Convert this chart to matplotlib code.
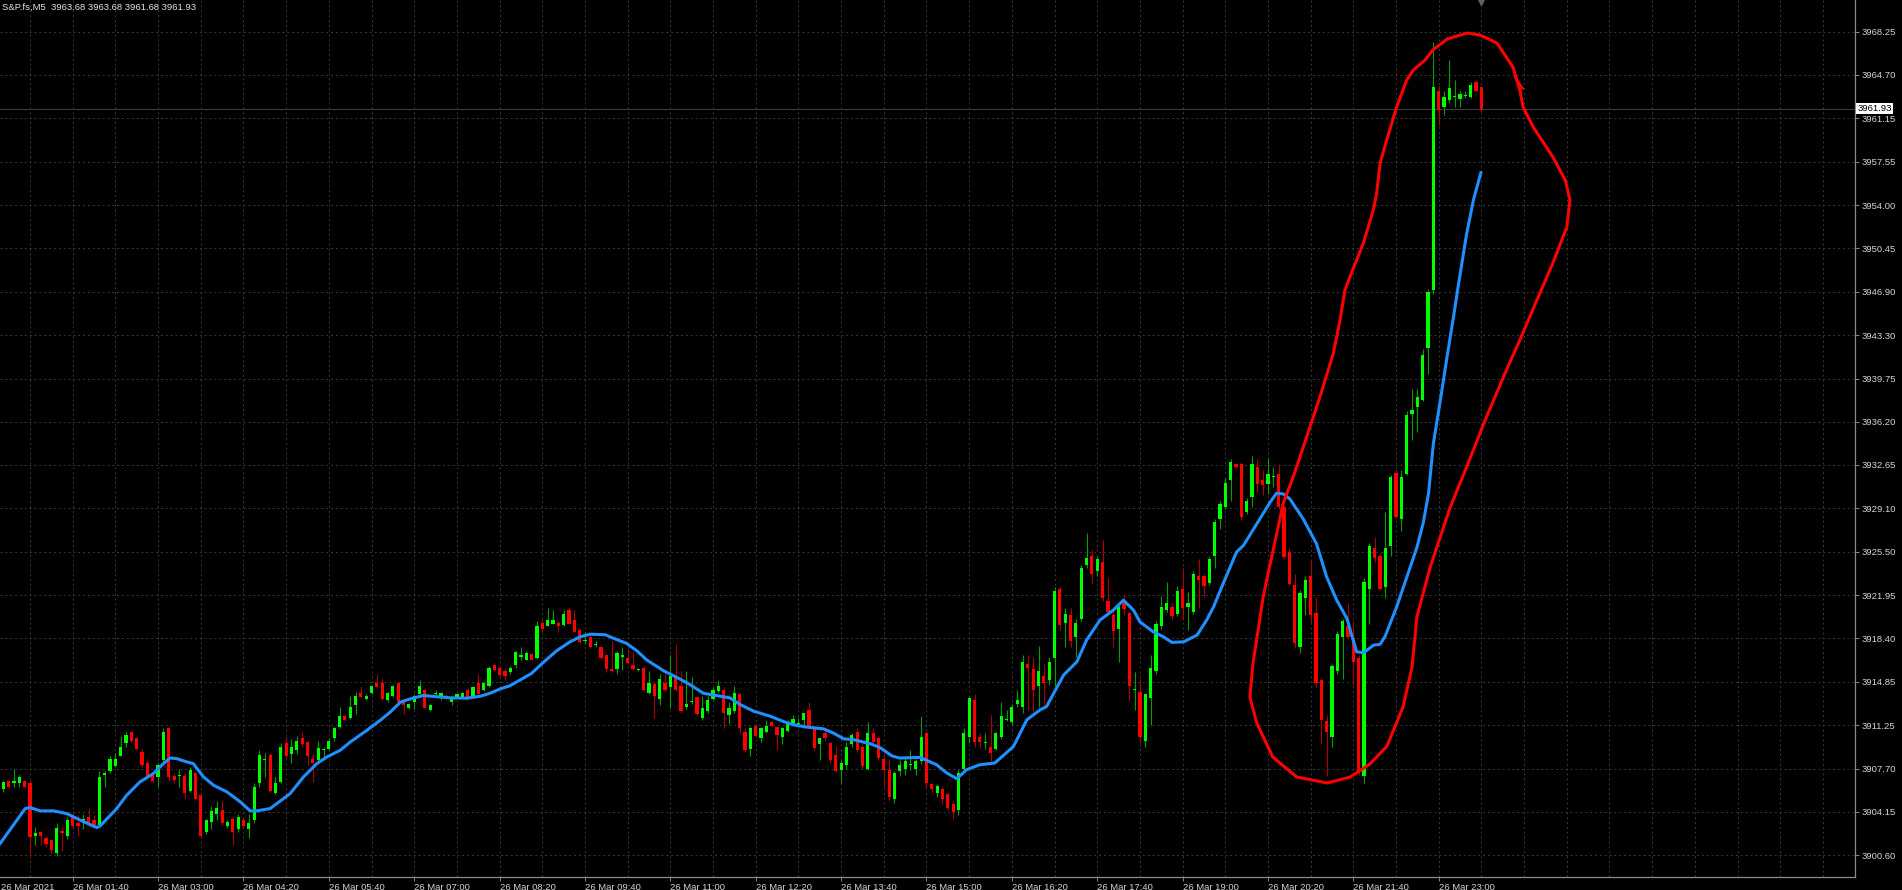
import numpy as np
import matplotlib.pyplot as plt
from matplotlib.transforms import blended_transform_factory

plt.rcParams['font.family'] = ['Liberation Sans', 'DejaVu Sans']

symbol = 'S&P.fs,M5'
first_bar = 7  # 00:35, bar number counted in 5 minute steps from 00:00

opens = [
    3906.0, 3906.7, 3906.5, 3906.5, 3906.7, 3906.5, 3902.2, 3902.5, 3902.0, 3901.8,
    3900.8, 3902.6, 3902.2, 3903.8, 3903.2, 3903.2, 3903.7, 3903.5, 3903.1, 3907.2,
    3907.5, 3907.9, 3908.7, 3909.8, 3910.7, 3910.2, 3909.1, 3908.2, 3907.2, 3907.0,
    3908.4, 3911.0, 3907.1, 3907.1, 3907.1, 3905.9, 3907.3, 3905.5, 3902.5, 3903.3,
    3904.0, 3904.3, 3903.0, 3903.6, 3902.7, 3903.5, 3902.7, 3903.5, 3906.5, 3908.4,
    3908.8, 3905.7, 3906.6, 3909.8, 3908.9, 3909.2, 3910.2, 3909.9, 3908.5, 3908.4,
    3909.2, 3909.3, 3910.2, 3911.1, 3912.0, 3911.9, 3912.9, 3913.9, 3913.4, 3913.9,
    3914.7, 3914.7, 3913.3, 3913.7, 3914.7, 3913.2, 3912.7, 3913.2, 3913.8, 3914.2,
    3912.5, 3913.8, 3913.5, 3913.7, 3913.2, 3913.6, 3913.6, 3914.2, 3913.7, 3914.7,
    3914.2, 3914.5, 3916.2, 3916.0, 3915.7, 3915.6, 3916.2, 3916.9, 3916.65, 3917.1,
    3916.8, 3919.7, 3919.4, 3919.6, 3919.7, 3919.5, 3920.7, 3919.9, 3919.1, 3918.2,
    3918.5, 3917.85, 3917.7, 3917.0, 3915.9, 3915.9, 3916.9, 3916.75, 3916.2, 3915.8,
    3916.0, 3913.9, 3914.65, 3913.4, 3914.7, 3914.4, 3915.3, 3914.5, 3912.8, 3913.15,
    3913.6, 3911.9, 3912.4, 3913.4, 3914.1, 3914.2, 3912.1, 3912.4, 3913.8, 3910.7,
    3909.3, 3911.2, 3910.2, 3910.7, 3911.5, 3911.1, 3910.3, 3910.8, 3911.4, 3911.4,
    3911.7, 3912.5, 3911.1, 3909.7, 3910.6, 3909.8, 3908.8, 3907.6, 3908.0, 3909.7,
    3910.7, 3909.5, 3907.7, 3910.6, 3910.2, 3908.5, 3907.6, 3905.2, 3907.5, 3907.7,
    3908.0, 3907.7, 3908.3, 3910.6, 3906.4, 3905.7, 3906.0, 3905.6, 3904.8, 3904.3,
    3907.7, 3910.3, 3913.3, 3910.3, 3909.8, 3909.5, 3909.3, 3910.3, 3911.7, 3911.5,
    3913.0, 3912.8, 3916.3, 3915.9, 3914.5, 3915.3, 3915.0, 3916.8, 3922.5, 3919.7,
    3920.3, 3918.5, 3920.0, 3924.4, 3925.2, 3923.9, 3924.7, 3921.5, 3920.3, 3919.2,
    3921.3, 3920.5, 3914.2, 3914.0, 3910.0, 3913.5, 3915.7, 3919.4, 3920.7, 3921.0,
    3920.4, 3922.5, 3921.0, 3920.6, 3923.5, 3923.5, 3922.96, 3925.2, 3928.2, 3929.2,
    3931.4, 3932.7, 3932.7, 3928.8, 3930.0, 3932.5, 3931.4, 3931.1, 3931.7, 3931.9,
    3929.2, 3925.5, 3922.8, 3917.7, 3921.7, 3923.5, 3920.5, 3915.0, 3911.6, 3910.3,
    3915.7, 3918.5, 3919.4, 3918.4, 3916.8, 3907.06, 3922.5, 3925.8, 3925.2, 3922.6,
    3925.98, 3932.0, 3928.2, 3931.9, 3936.8, 3937.4, 3938.0, 3942.3, 3947.0, 3963.4,
    3962.1, 3962.6, 3962.9, 3962.7, 3962.95, 3962.9, 3964.1, 3963.68,
]
highs = [
    3906.7, 3906.8, 3907.7, 3907.2, 3906.8, 3906.8, 3902.9, 3902.6, 3902.2, 3901.8,
    3903.2, 3902.8, 3903.7, 3904.0, 3903.9, 3904.0, 3904.5, 3903.9, 3907.5, 3907.5,
    3908.7, 3909.0, 3910.4, 3910.7, 3910.8, 3910.3, 3909.3, 3908.4, 3907.4, 3908.2,
    3911.0, 3911.1, 3907.3, 3907.7, 3907.3, 3907.8, 3907.4, 3905.6, 3903.6, 3904.6,
    3905.0, 3905.1, 3903.5, 3903.7, 3904.0, 3903.7, 3904.0, 3906.5, 3909.2, 3909.0,
    3909.0, 3907.0, 3909.8, 3910.4, 3910.1, 3910.4, 3910.7, 3910.0, 3908.9, 3910.0,
    3909.5, 3910.2, 3911.1, 3912.8, 3912.1, 3913.7, 3914.0, 3914.5, 3913.8, 3914.6,
    3915.5, 3915.1, 3914.0, 3914.6, 3914.8, 3913.4, 3913.1, 3913.8, 3915.0, 3914.3,
    3913.0, 3914.2, 3914.0, 3913.8, 3913.7, 3913.9, 3914.0, 3914.3, 3914.5, 3915.5,
    3914.8, 3916.1, 3916.3, 3916.1, 3916.0, 3916.1, 3917.4, 3917.7, 3917.4, 3917.2,
    3919.8, 3919.9, 3920.9, 3920.7, 3919.85, 3920.7, 3920.9, 3920.7, 3919.2, 3918.9,
    3918.6, 3918.2, 3917.8, 3917.1, 3918.2, 3917.4, 3917.7, 3917.5, 3917.3, 3916.0,
    3916.1, 3915.7, 3914.8, 3915.5, 3915.6, 3917.0, 3917.9, 3915.7, 3915.7, 3915.2,
    3913.7, 3913.7, 3913.7, 3914.4, 3915.0, 3914.4, 3913.2, 3914.5, 3913.9, 3911.0,
    3911.1, 3911.4, 3911.1, 3911.7, 3911.65, 3911.2, 3911.1, 3911.7, 3912.1, 3911.9,
    3912.3, 3913.2, 3911.2, 3910.3, 3911.1, 3909.9, 3909.6, 3908.4, 3909.9, 3910.6,
    3911.0, 3909.7, 3911.5, 3911.0, 3910.4, 3908.9, 3908.5, 3907.5, 3908.4, 3908.7,
    3909.2, 3908.5, 3912.0, 3910.7, 3906.5, 3906.4, 3906.2, 3905.7, 3905.0, 3907.6,
    3911.0, 3913.6, 3913.8, 3910.6, 3910.6, 3912.1, 3910.75, 3913.2, 3912.5, 3913.0,
    3914.2, 3917.0, 3917.0, 3916.9, 3917.8, 3916.3, 3916.9, 3922.6, 3922.6, 3920.9,
    3920.9, 3920.0, 3924.4, 3927.1, 3925.7, 3925.2, 3926.5, 3923.4, 3920.6, 3921.2,
    3922.0, 3920.6, 3915.6, 3915.1, 3913.9, 3917.0, 3919.8, 3921.9, 3923.0, 3921.3,
    3922.7, 3924.2, 3922.2, 3923.9, 3924.9, 3923.7, 3925.2, 3928.2, 3929.7, 3931.6,
    3933.1, 3932.8, 3932.9, 3929.9, 3933.4, 3933.1, 3932.2, 3933.2, 3932.5, 3932.7,
    3929.3, 3925.8, 3923.7, 3922.4, 3923.5, 3924.8, 3921.8, 3915.1, 3912.1, 3916.3,
    3919.0, 3920.0, 3921.3, 3919.8, 3917.0, 3923.4, 3926.2, 3926.7, 3925.4, 3928.8,
    3931.8, 3932.2, 3932.2, 3937.1, 3938.9, 3938.9, 3942.2, 3947.1, 3967.4, 3963.8,
    3963.4, 3965.9, 3964.3, 3963.4, 3963.4, 3964.1, 3964.3, 3963.68,
]
lows = [
    3905.8, 3906.1, 3906.2, 3906.2, 3906.1, 3900.5, 3901.4, 3901.4, 3901.3, 3900.7,
    3900.5, 3900.9, 3901.9, 3902.7, 3902.2, 3902.7, 3902.9, 3903.0, 3902.9, 3906.2,
    3907.3, 3907.8, 3908.7, 3909.5, 3909.9, 3909.2, 3907.8, 3907.0, 3906.5, 3906.2,
    3908.2, 3906.7, 3906.5, 3906.2, 3905.2, 3905.8, 3905.1, 3902.0, 3902.3, 3902.7,
    3903.5, 3903.1, 3902.8, 3901.4, 3902.5, 3902.8, 3902.0, 3903.2, 3906.2, 3907.0,
    3905.8, 3905.6, 3906.5, 3908.6, 3908.2, 3908.9, 3909.5, 3908.0, 3906.6, 3908.1,
    3908.4, 3909.2, 3910.0, 3911.0, 3911.6, 3911.8, 3912.2, 3913.6, 3913.3, 3913.8,
    3914.3, 3913.3, 3913.2, 3913.6, 3913.1, 3912.2, 3912.6, 3912.6, 3913.7, 3912.6,
    3912.4, 3913.6, 3913.3, 3913.4, 3912.9, 3913.5, 3913.5, 3913.5, 3913.6, 3913.7,
    3914.1, 3914.4, 3915.7, 3915.3, 3915.0, 3915.5, 3916.0, 3916.6, 3916.6, 3916.6,
    3916.7, 3918.9, 3919.4, 3919.6, 3918.9, 3919.4, 3919.6, 3918.9, 3917.9, 3917.9,
    3917.6, 3917.7, 3916.7, 3915.6, 3915.6, 3915.5, 3915.8, 3916.3, 3915.8, 3915.7,
    3914.1, 3913.8, 3911.9, 3912.9, 3914.1, 3912.7, 3914.1, 3912.3, 3912.6, 3913.0,
    3912.1, 3911.7, 3912.3, 3913.3, 3914.0, 3911.0, 3911.4, 3912.3, 3910.6, 3909.1,
    3908.7, 3910.3, 3909.9, 3910.6, 3911.1, 3909.2, 3909.7, 3910.7, 3911.2, 3911.1,
    3911.0, 3911.0, 3909.2, 3908.4, 3910.0, 3908.2, 3907.4, 3906.5, 3907.7, 3909.5,
    3909.1, 3907.7, 3907.6, 3909.6, 3908.4, 3906.2, 3905.1, 3904.9, 3907.1, 3907.2,
    3907.6, 3907.2, 3908.1, 3906.1, 3905.8, 3905.4, 3904.8, 3904.3, 3903.6, 3903.9,
    3907.6, 3909.8, 3909.5, 3909.5, 3909.3, 3908.3, 3909.2, 3910.1, 3911.6, 3911.3,
    3912.8, 3912.3, 3912.5, 3912.3, 3912.8, 3912.9, 3914.6, 3914.5, 3919.1, 3917.7,
    3917.7, 3916.9, 3919.8, 3924.2, 3922.96, 3923.5, 3921.5, 3920.4, 3917.7, 3916.5,
    3920.3, 3913.3, 3912.5, 3909.8, 3909.5, 3911.3, 3915.5, 3919.2, 3920.6, 3919.9,
    3920.2, 3919.9, 3919.1, 3920.4, 3920.9, 3921.8, 3922.8, 3924.2, 3927.4, 3929.0,
    3929.7, 3932.4, 3928.1, 3928.6, 3929.2, 3930.4, 3930.2, 3930.3, 3930.8, 3929.0,
    3924.9, 3922.8, 3917.6, 3917.2, 3920.3, 3919.6, 3914.4, 3909.8, 3907.1, 3909.5,
    3915.5, 3915.1, 3918.4, 3914.6, 3907.2, 3906.5, 3919.6, 3924.7, 3922.4, 3921.7,
    3925.2, 3928.3, 3927.2, 3931.8, 3934.7, 3935.4, 3937.9, 3940.1, 3946.7, 3960.6,
    3961.4, 3962.4, 3962.1, 3962.1, 3962.8, 3962.8, 3963.3, 3961.68,
]
closes = [
    3906.6, 3906.2, 3906.7, 3907.0, 3906.2, 3902.1, 3902.4, 3902.2, 3901.5, 3901.0,
    3902.8, 3902.4, 3903.5, 3903.0, 3903.0, 3903.6, 3903.2, 3903.1, 3907.0, 3907.3,
    3908.5, 3908.5, 3909.5, 3910.5, 3910.0, 3909.3, 3908.0, 3907.1, 3906.7, 3908.0,
    3910.7, 3907.0, 3906.8, 3907.2, 3905.7, 3907.6, 3905.2, 3902.2, 3903.5, 3904.2,
    3904.5, 3903.2, 3903.3, 3902.5, 3903.7, 3903.0, 3903.2, 3906.2, 3908.8, 3908.5,
    3905.9, 3906.5, 3909.5, 3908.7, 3909.5, 3910.0, 3909.7, 3908.7, 3908.2, 3909.4,
    3909.3, 3910.0, 3911.0, 3912.0, 3911.7, 3912.8, 3913.7, 3913.6, 3913.7, 3914.5,
    3914.4, 3913.4, 3913.9, 3914.5, 3913.2, 3912.9, 3913.0, 3913.7, 3914.5, 3912.7,
    3912.9, 3913.9, 3913.9, 3913.5, 3913.5, 3913.8, 3913.9, 3913.6, 3914.4, 3913.8,
    3914.7, 3916.0, 3915.8, 3915.4, 3915.3, 3916.0, 3917.25, 3917.0, 3917.2, 3916.65,
    3919.4, 3919.2, 3919.9, 3919.9, 3919.4, 3920.4, 3919.6, 3918.9, 3918.1, 3918.25,
    3917.7, 3917.9, 3916.8, 3915.9, 3915.7, 3917.2, 3917.0, 3916.4, 3915.9, 3915.9,
    3914.2, 3914.7, 3913.7, 3915.1, 3914.2, 3915.3, 3914.2, 3912.4, 3913.0, 3913.2,
    3912.2, 3912.7, 3913.3, 3914.2, 3914.5, 3912.3, 3912.7, 3913.9, 3911.0, 3909.2,
    3911.0, 3910.4, 3911.0, 3911.2, 3911.2, 3910.5, 3911.0, 3911.4, 3911.8, 3911.45,
    3912.25, 3911.1, 3909.4, 3910.2, 3910.2, 3908.4, 3907.5, 3908.2, 3909.5, 3910.5,
    3909.2, 3907.9, 3910.6, 3909.9, 3908.6, 3907.6, 3905.4, 3907.3, 3908.0, 3908.3,
    3908.1, 3908.3, 3910.3, 3906.5, 3906.0, 3906.3, 3905.2, 3904.5, 3904.1, 3907.3,
    3910.6, 3913.5, 3909.9, 3909.9, 3909.85, 3909.0, 3910.6, 3912.0, 3911.8, 3912.8,
    3913.3, 3916.5, 3916.0, 3914.2, 3915.7, 3914.7, 3916.5, 3922.3, 3919.5, 3920.4,
    3918.2, 3919.7, 3924.2, 3925.0, 3923.7, 3924.9, 3921.7, 3920.6, 3919.0, 3921.0,
    3920.8, 3914.5, 3914.25, 3910.3, 3913.8, 3916.0, 3919.6, 3921.0, 3921.3, 3920.2,
    3922.3, 3920.9, 3921.3, 3923.7, 3923.2, 3922.7, 3924.9, 3927.96, 3929.45, 3931.2,
    3932.9, 3932.5, 3928.4, 3929.7, 3932.7, 3931.1, 3931.0, 3931.9, 3931.75, 3929.2,
    3925.1, 3922.9, 3918.0, 3922.1, 3923.2, 3920.3, 3914.7, 3911.7, 3910.7, 3916.1,
    3918.8, 3919.8, 3918.5, 3916.5, 3907.3, 3923.0, 3926.0, 3925.0, 3922.5, 3925.8,
    3931.7, 3928.4, 3931.7, 3936.75, 3937.2, 3938.2, 3941.7, 3946.9, 3963.7, 3961.85,
    3962.9, 3963.6, 3962.95, 3963.1, 3963.0, 3963.9, 3963.4, 3961.93,
]

# moving average (blue) at these bar numbers
ma_bars = [6.4, 11.1, 12.0, 13.9, 16.4, 18.9, 21.4, 24.5, 25.1, 28.25, 30.1, 32.6, 35.1,
           37.0, 38.25, 39.5, 41.4, 42.6, 44.5, 46.4, 48.9, 51.4, 53.25, 54.5, 57.0, 58.25,
           60.75, 63.25, 65.75, 67.6, 70.1, 72.0, 75.1, 77.6, 79.5, 81.4, 83.25, 85.75,
           87.6, 90.75, 93.9, 96.4, 98.25, 100.1, 102.0, 106.0, 108.2, 110.7, 113.2, 115.1,
           117.0, 119.8, 121.3, 123.8, 125.7, 127.6, 130.7, 133.2, 135.7, 138.2, 140.7,
           143.2, 145.1, 147.6, 150.7, 153.2, 155.1, 157.6, 160.7, 162.6, 164.5, 166.4,
           169.5, 171.3, 173.5, 175.0, 178.8, 181.9, 183.8, 185.7, 187.5, 190.0, 192.8,
           196.3, 198.8, 201.3, 202.5, 205.7, 208.2, 210.0, 212.5, 215.0, 216.9, 218.8,
           220.0, 222.5, 224.4, 226.0, 228.2, 230.7, 232.5, 233.8, 235.6, 238.1, 239.4,
           241.9, 244.4, 245.6, 246.9, 248.1, 250.6, 253.1, 255.0, 256.9, 258.8, 260.6,
           261.9, 263.8, 265.0, 265.9, 268.1, 270.0, 271.9, 273.1, 274.1, 275.0, 276.2,
           277.5, 278.7, 279.7, 281.2, 282.5, 283.9]
ma_values = [3901.55, 3904.42, 3904.5, 3904.23, 3904.23, 3904.0, 3903.47, 3902.86, 3902.97,
             3904.42, 3905.51, 3906.61, 3907.29, 3908.11, 3908.57, 3908.52, 3908.25, 3908.11,
             3907.02, 3906.33, 3905.79, 3904.97, 3904.23, 3904.23, 3904.42, 3904.83, 3905.65,
             3907.02, 3908.11, 3908.65, 3909.2, 3909.88, 3910.84, 3911.66, 3912.34, 3913.16,
             3913.43, 3913.71, 3913.63, 3913.52, 3913.49, 3913.65, 3913.9, 3914.25, 3914.52,
             3915.53, 3916.43, 3917.39, 3918.12, 3918.53, 3918.75, 3918.7, 3918.42, 3917.99,
             3917.39, 3916.62, 3915.75, 3915.2, 3914.6, 3913.89, 3913.7, 3913.51, 3912.96,
             3912.42, 3912.01, 3911.57, 3911.3, 3911.11, 3910.97, 3910.61, 3910.15, 3910.07,
             3909.74, 3909.43, 3908.75, 3908.57, 3908.62, 3908.02, 3907.34, 3906.87, 3907.61,
             3908.02, 3908.16, 3909.52, 3911.71, 3912.53, 3912.8, 3915.39, 3916.49, 3918.26,
             3919.9, 3920.72, 3921.54, 3920.72, 3919.76, 3918.94, 3918.53, 3918.07, 3918.12,
             3918.67, 3919.9, 3920.99, 3922.9, 3925.49, 3926.04, 3927.81, 3929.59, 3930.33,
             3930.27, 3929.86, 3928.22, 3926.17, 3923.44, 3921.53, 3920.03, 3917.3, 3917.22,
             3917.85, 3917.91, 3918.52, 3920.97, 3923.41, 3925.86, 3927.9, 3930.35, 3934.43,
             3937.69, 3941.37, 3944.63, 3947.49, 3951.57, 3954.42, 3956.67]

# hand drawn red loop around the last move
loop_bars = [243.76, 246.87, 248.74, 251.26, 253.75, 256.24, 257.5, 258.43, 259.37, 261.86,
             263.74, 264.37, 265.0, 266.25, 268.13, 270.0, 271.24, 273.43, 274.9, 277.6,
             281.3, 283.7, 286.9, 289.9, 291.2, 291.8, 293.7, 297.4, 299.7, 300.6, 300.0,
             297.4, 294.4, 291.2, 288.2, 284.7, 281.9, 278.1, 274.4, 271.9, 271.0, 269.3,
             266.3, 263.1, 259.4, 255.1, 249.4, 244.9, 241.9, 240.6, 241.2, 243.1, 243.76]
loop_prices = [3923.20, 3929.52, 3931.68, 3934.97, 3938.26, 3941.82, 3944.56, 3947.02,
               3948.12, 3950.86, 3953.60, 3954.97, 3957.44, 3959.35, 3962.09, 3964.28,
               3965.10, 3965.92, 3966.75, 3967.65, 3968.14, 3967.98, 3967.32, 3965.35,
               3963.46, 3962.06, 3960.42, 3957.95, 3956.07, 3954.42, 3952.20, 3949.25,
               3946.20, 3942.92, 3939.96, 3936.34, 3933.22, 3929.11, 3924.26, 3920.16,
               3916.05, 3912.76, 3909.55, 3908.08, 3907.01, 3906.52, 3907.01, 3908.65,
               3911.45, 3913.58, 3916.38, 3921.80, 3923.20]
hook_bars = [290.3, 291.7]
hook_prices = [3964.5, 3963.6]

x_tick_bars = [20, 36, 52, 68, 84, 100, 116, 132, 148, 164, 180, 196, 212, 228, 244, 260, 276]
x_tick_labels = ['26 Mar 01:40', '26 Mar 03:00', '26 Mar 04:20', '26 Mar 05:40',
                 '26 Mar 07:00', '26 Mar 08:20', '26 Mar 09:40', '26 Mar 11:00',
                 '26 Mar 12:20', '26 Mar 13:40', '26 Mar 15:00', '26 Mar 16:20',
                 '26 Mar 17:40', '26 Mar 19:00', '26 Mar 20:20', '26 Mar 21:40',
                 '26 Mar 23:00']
first_label = '26 Mar 2021'
y_ticks = [3900.60, 3904.15, 3907.70, 3911.25, 3914.85, 3918.40, 3921.95, 3925.50,
           3929.10, 3932.65, 3936.20, 3939.75, 3943.30, 3946.90, 3950.45, 3954.00,
           3957.55, 3961.15, 3964.70, 3968.25]

grid_col = '#3a3a3a'
text_col = '#d4d4d4'
axis_col = '#8a8a8a'

fig = plt.figure(figsize=(19.02, 8.90), dpi=100, facecolor='black')
ax = fig.add_axes([0, 13.3 / 890, 1855 / 1902, 876.7 / 890])
ax.set_facecolor('black')

o = np.array(opens)
h = np.array(highs)
l = np.array(lows)
c = np.array(closes)
bars = np.arange(first_bar, first_bar + len(c))
up = c >= o

# wicks then bodies
ax.vlines(bars, l, h, colors=np.where(up, '#00a000', '#b00000'), linewidth=0.8, zorder=3)
body_h = np.maximum(np.abs(c - o), 0.07)
ax.bar(bars, body_h, bottom=np.minimum(o, c), width=0.6,
       color=np.where(up, '#00ff00', '#ff0000'), linewidth=0, zorder=4)

ax.plot(ma_bars, ma_values, color='#1e90ff', linewidth=2.2, zorder=5)
ax.plot(loop_bars, loop_prices, color='#ff0000', linewidth=2.2, zorder=6,
        solid_joinstyle='round', solid_capstyle='round')
ax.plot(hook_bars, hook_prices, color='#ff0000', linewidth=1.8, zorder=6)

# grid
for y in y_ticks:
    ax.axhline(y, color=grid_col, linewidth=0.7, linestyle=(0, (2, 3)), zorder=0)
for gx in np.arange(12, 354, 8):
    ax.axvline(gx, color=grid_col, linewidth=0.7, linestyle=(0, (2, 3)), zorder=0)

# current price line and label
last_price = closes[-1]
ax.axhline(last_price, color='#3c3c3c', linewidth=0.8, zorder=1)
trans = blended_transform_factory(ax.transAxes, ax.transData)
ax.text(1.0012, last_price, f'{last_price:.2f}', transform=trans, ha='left', va='center',
        fontsize=6.8, color='black', zorder=10,
        bbox=dict(facecolor='white', edgecolor='none', pad=0.8))
ax.plot([284], [3970.7], marker='v', color='#606060', markersize=4, clip_on=False, zorder=7)

ax.set_xlim(6.372, 354.01)
ax.set_ylim(3898.82, 3970.855)

ax.set_xticks(x_tick_bars, x_tick_labels)
for t in ax.get_xticklabels():
    t.set_horizontalalignment('left')
ax.tick_params(axis='x', colors=axis_col, labelcolor=text_col, length=3, width=0.7,
               pad=1.5, labelsize=6.8)
trans_x = blended_transform_factory(ax.transData, ax.transAxes)
ax.text(6.6, -0.0072, first_label, transform=trans_x, ha='left', va='top',
        fontsize=6.8, color=text_col, clip_on=False)

ax.yaxis.tick_right()
ax.set_yticks(y_ticks, [f'{v:.2f}' for v in y_ticks])
ax.tick_params(axis='y', colors=axis_col, labelcolor=text_col, length=3, width=0.7,
               pad=1.5, labelsize=6.8)

for side in ['left', 'top']:
    ax.spines[side].set_visible(False)
for side in ['right', 'bottom']:
    ax.spines[side].set_color(axis_col)
    ax.spines[side].set_linewidth(0.9)

fig.text(2 / 1902, 1 - 7 / 890,
         f'{symbol}  {opens[-1]:.2f} {highs[-1]:.2f} {lows[-1]:.2f} {closes[-1]:.2f}',
         color='#e4e4e4', fontsize=6.8, ha='left', va='center')

fig.savefig('out.png', dpi=100, facecolor='black')
